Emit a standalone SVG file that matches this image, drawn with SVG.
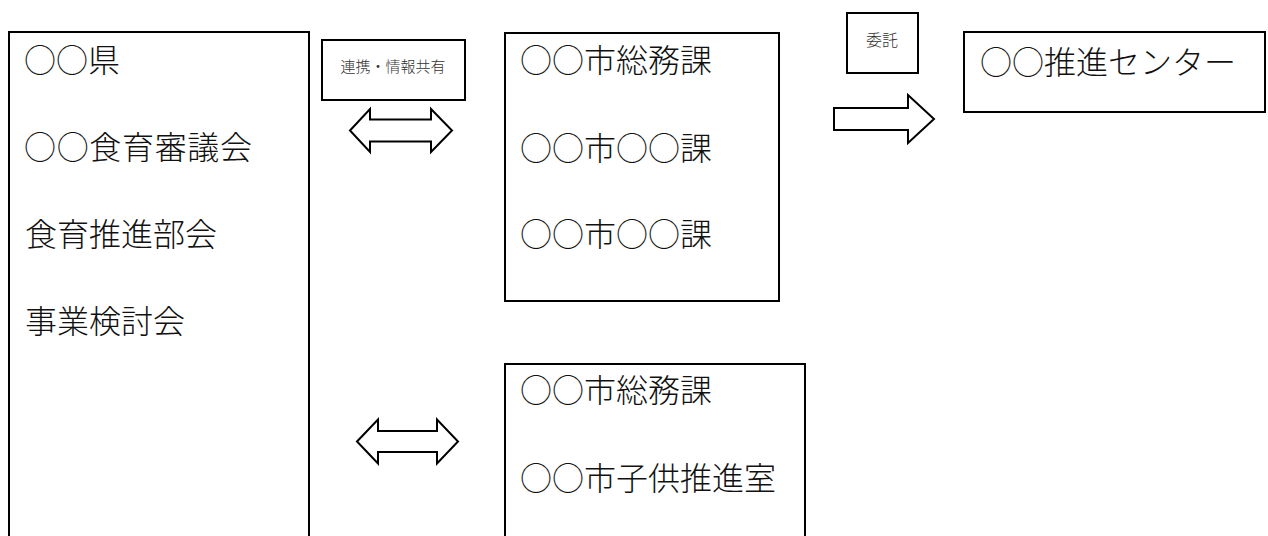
<svg xmlns="http://www.w3.org/2000/svg" width="1268" height="536" viewBox="0 0 1268 536">
<style>
.box{fill:#fff;stroke:#000;stroke-width:2}
.arrow{fill:#fff;stroke:#000;stroke-width:2;stroke-linejoin:miter}
.t{font-family:"Noto Sans CJK JP","Noto Sans CJK SC",sans-serif;font-size:32px;font-weight:300;fill:#111}
.s{font-family:"Noto Sans CJK JP","Noto Sans CJK SC",sans-serif;font-weight:300;fill:#333;text-anchor:middle}
</style>
<rect width="1268" height="536" fill="#fff"/>
<g id="prefecture">
<rect class="box" x="9" y="32" width="300" height="530"/>
<text class="t" x="24" y="72">○○県</text>
<text class="t" x="24" y="159" textLength="228" lengthAdjust="spacing">○○食育審議会</text>
<text class="t" x="25" y="246">食育推進部会</text>
<text class="t" x="25" y="333">事業検討会</text>
</g>
<g id="label-renkei">
<rect class="box" x="322" y="40" width="143" height="60"/>
<text class="s" x="393" y="72" font-size="15">連携・情報共有</text>
</g>
<g id="city-top">
<rect class="box" x="505" y="33" width="274" height="268"/>
<text class="t" x="520" y="72">○○市総務課</text>
<text class="t" x="520" y="160">○○市○○課</text>
<text class="t" x="520" y="246">○○市○○課</text>
</g>
<g id="city-bottom">
<rect class="box" x="505" y="364" width="300" height="200"/>
<text class="t" x="520" y="402">○○市総務課</text>
<text class="t" x="520" y="490">○○市子供推進室</text>
</g>
<g id="label-itaku">
<rect class="box" x="847" y="13" width="71" height="60"/>
<text class="s" x="882" y="46" font-size="16">委託</text>
</g>
<g id="center">
<rect class="box" x="964" y="32" width="301" height="80"/>
<text class="t" x="980" y="74">○○推進センター</text>
</g>
<g id="connectors">
<polygon class="arrow" points="350,130.5 370,109 370,119.5 431,119.5 431,109 452,130.5 431,152 431,141.5 370,141.5 370,152"/>
<polygon class="arrow" points="357,441.5 378,419.5 378,431 437,431 437,419.5 458,441.5 437,463.5 437,452 378,452 378,463.5"/>
<polygon class="arrow" points="834,108 908,108 908,95 934,119 908,143 908,130 834,130"/>
</g>
</svg>
